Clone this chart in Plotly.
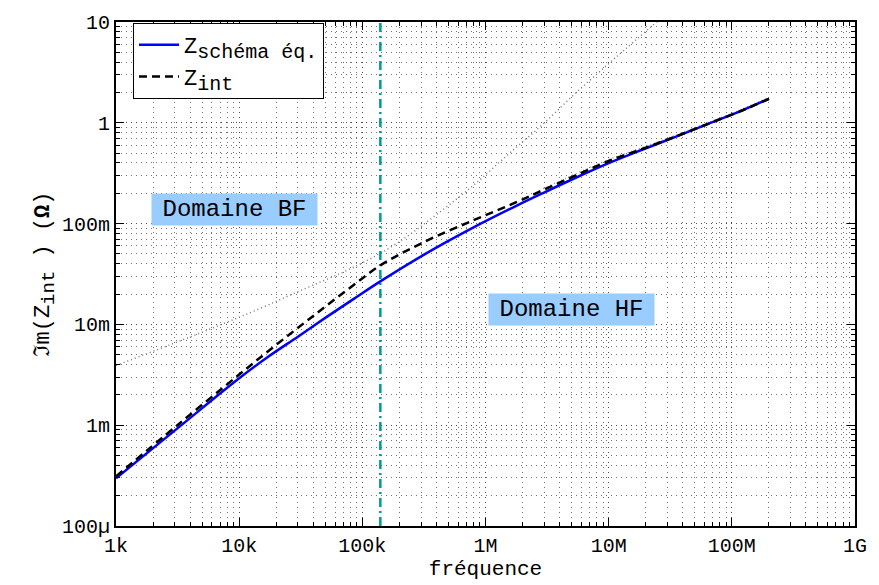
import numpy as np
import plotly.graph_objects as go

# ---------------- data ----------------
freq = [1e3, 3.15e3, 1e4, 1.73e4, 3.02e4, 5e4, 8.4e4, 1.4e5, 3.2e5, 8e5,
        1.78e6, 2.93e6, 5.4e6, 1e7, 1.87e7, 3.44e7, 6.35e7, 1.15e8, 2e8]
z_schema = [2.97e-4, 9.3e-4, 2.92e-3, 4.8e-3, 7.6e-3, 0.0116, 0.0177, 0.0267, 0.0495, 0.0916,
            0.150, 0.201, 0.285, 0.398, 0.54, 0.72, 0.97, 1.29, 1.73]
z_int = [3.11e-4, 1.0e-3, 3.18e-3, 5.45e-3, 9.3e-3, 0.0150, 0.0243, 0.0385, 0.0660, 0.108,
         0.163, 0.215, 0.301, 0.418, 0.55, 0.725, 0.972, 1.29, 1.73]

# low-frequency asymptote (gray dotted)
freq_asym = [1e3, 5.7e3, 1.44e4, 3.02e4, 9.18e4, 1.93e5, 4.6e5, 8.47e5, 1.56e6, 2.93e6,
             5.4e6, 1.13e7, 2.61e7]
z_asym = [3.91e-3, 8.91e-3, 0.0142, 0.0212, 0.0386, 0.0644, 0.140, 0.255, 0.497, 0.970,
          1.97, 4.40, 10.7]

# high-frequency asymptote (gray dotted, near curves)
freq_hf = [2.93e6, 5.4e6, 1e7, 1.87e7, 3.44e7, 6.35e7, 1.15e8, 2e8]
z_hf = [0.222, 0.312, 0.432, 0.568, 0.748, 1.0, 1.33, 1.79]

f_limit = 1.4e5          # BF / HF boundary
y_range_vals = [1e-4, 10]

x_tickvals = [1e3, 1e4, 1e5, 1e6, 1e7, 1e8, 1e9]
x_ticktext = ["1k", "10k", "100k", "1M", "10M", "100M", "1G"]
y_tickvals = [1e-4, 1e-3, 1e-2, 1e-1, 1, 10]
y_ticktext = ["100\u00b5", "1m", "10m", "100m", "1", "10"]

label_bf = ("Domaine BF", 9.2e3, 0.137)
label_hf = ("Domaine HF", 5.0e6, 0.0142)

# ---------------- figure ----------------
FONT = "Liberation Mono, Courier New, monospace"
fig = go.Figure()

fig.add_trace(go.Scatter(x=freq_asym, y=z_asym, mode="lines", showlegend=False, line_shape="spline",
                         line=dict(color="#7a7a7a", width=1.5, dash="1px,3px"),
                         hoverinfo="skip"))
fig.add_trace(go.Scatter(x=freq_hf, y=z_hf, mode="lines", showlegend=False, line_shape="spline",
                         line=dict(color="#999999", width=1.5, dash="1px,3px"),
                         hoverinfo="skip"))
fig.add_trace(go.Scatter(x=[f_limit, f_limit], y=y_range_vals, mode="lines", showlegend=False,
                         line=dict(color="#009a9a", width=2.5, dash="9px,4px,2px,4px")))

fig.add_trace(go.Scatter(
    x=freq, y=z_schema, mode="lines", line_shape="spline",
    name="Z<sub><span style='font-size:20px'>sch\u00e9ma \u00e9q.</span></sub>",
    line=dict(color="#0000ff", width=2.5)))
fig.add_trace(go.Scatter(
    x=freq, y=z_int, mode="lines", line_shape="spline",
    name="Z<sub><span style='font-size:20px'>int</span></sub>",
    line=dict(color="black", width=2.5, dash="8px,5px")))

for txt, fx, fy in (label_bf, label_hf):
    fig.add_annotation(x=np.log10(fx), y=np.log10(fy), xref="x", yref="y",
                       text=txt, showarrow=False, bgcolor="#99ccff",
                       width=165, height=31, borderpad=0,
                       font=dict(family=FONT, size=24, color="black"))

x_minor = [m * 10.0 ** e for e in range(3, 9) for m in range(2, 10)]
y_minor = [m * 10.0 ** e for e in range(-4, 1) for m in range(2, 10)]

grid = dict(showgrid=True, gridcolor="rgba(0,0,0,0.7)", gridwidth=1, griddash="1px,4px")


def minor(vals):
    return dict(tickvals=vals, ticks="inside", ticklen=4, tickcolor="black", showgrid=True,
                gridcolor="rgba(0,0,0,0.55)", gridwidth=1, griddash="1px,4px")


fig.update_xaxes(type="log", range=[3, 9], tickvals=x_tickvals, ticktext=x_ticktext,
                 ticks="inside", ticklen=8, tickcolor="black", showline=True, linewidth=2,
                 linecolor="black", mirror="ticks", zeroline=False,
                 tickfont=dict(family=FONT, size=20, color="black"),
                 title=dict(text="fr\u00e9quence", font=dict(family=FONT, size=21, color="black"),
                            standoff=0),
                 minor=minor(x_minor), **grid)
fig.update_yaxes(type="log", range=[-4, 1], tickvals=y_tickvals, ticktext=y_ticktext,
                 ticks="inside", ticklen=8, tickcolor="black", showline=True, linewidth=2,
                 linecolor="black", mirror="ticks", zeroline=False,
                 tickfont=dict(family=FONT, size=20, color="black"),
                 title=dict(text="\u2111m(Z<sub><span style='font-size:19px'>int</span></sub> ) (<b>\u03a9</b>)",
                            font=dict(family=FONT, size=22, color="black"), standoff=6),
                 minor=minor(y_minor), **grid)

fig.update_layout(
    width=879, height=585,
    margin=dict(l=116, r=17, t=15, b=52),
    paper_bgcolor="white", plot_bgcolor="white",
    font=dict(family=FONT, color="black"),
    legend=dict(x=0.023, y=0.998, xanchor="left", yanchor="top",
                bgcolor="white", bordercolor="black", borderwidth=1,
                font=dict(family=FONT, size=22, color="black"),
                itemwidth=40, tracegroupgap=0),
)

fig.write_html("out.html")
